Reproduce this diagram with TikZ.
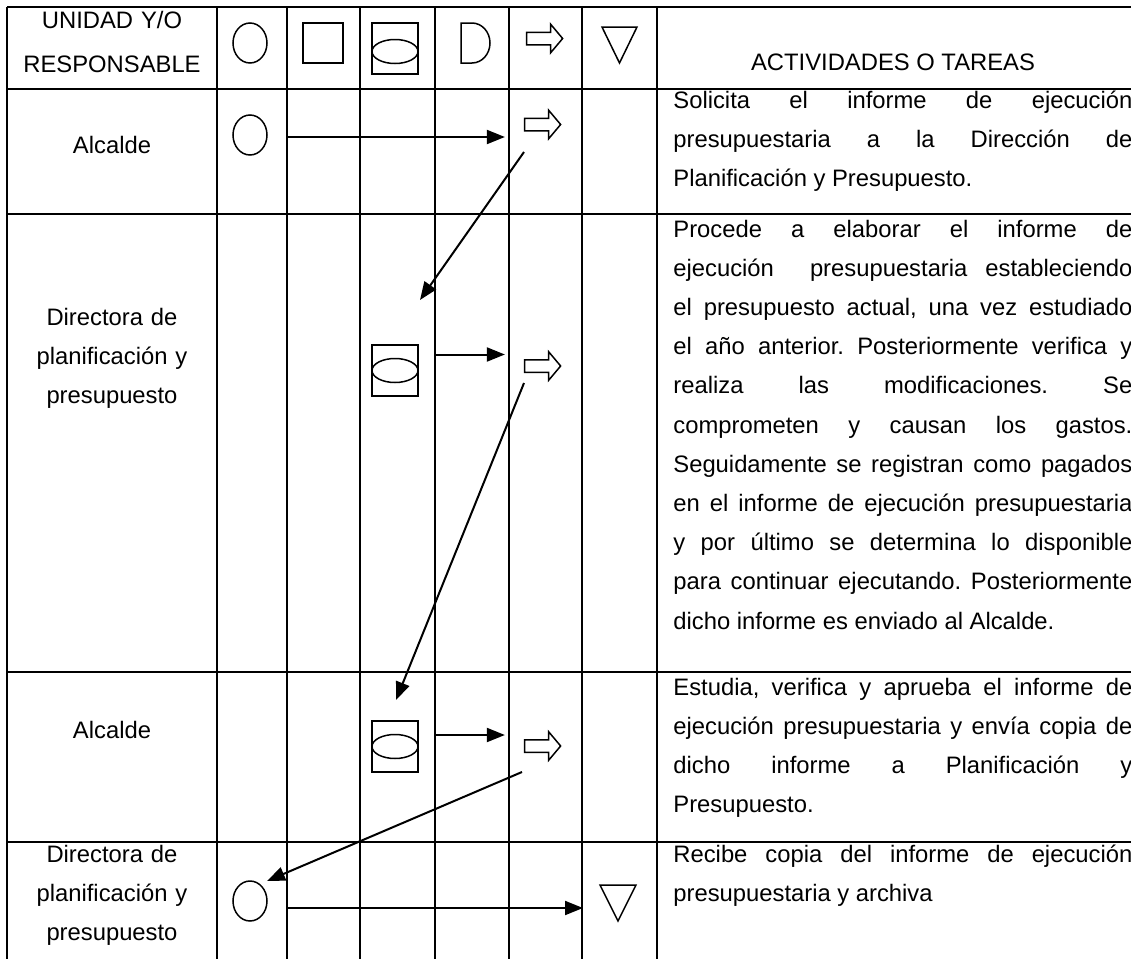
\documentclass[tikz,border=0pt]{standalone}
\usepackage{fontspec}
\setmainfont{Liberation Sans}
\usepackage{tikz}
\usetikzlibrary{arrows.meta, positioning, shapes.geometric, shapes.arrows}

\begin{document}
\frenchspacing
\begin{tikzpicture}[x=0.5pt, y=-0.5pt,
  linea/.style={line width=1pt},
  flujo/.style={line width=1pt, -{Triangle[length=9pt, width=7pt]}},
  simb/.style={draw, line width=0.75pt, inner sep=0pt},
  origen/.style={simb, ellipse, minimum width=17pt, minimum height=20pt},
  operacion/.style={simb, rectangle, minimum width=20pt, minimum height=20pt},
  inspeccion/.style={simb, rectangle, minimum width=23pt, minimum height=25.5pt},
  ovalo/.style={simb, ellipse, minimum width=23pt, minimum height=12pt},
  transporte/.style={simb, single arrow, inner xsep=0pt, inner ysep=2.75pt,
    minimum height=18pt, minimum width=13.5pt,
    single arrow head extend=4pt, single arrow tip angle=100},
  texto/.style={font=\fontsize{11.9pt}{19.6pt}\selectfont, inner sep=0pt},
  unidad/.style={texto, anchor=base, text width=105pt, align=center},
  tarea/.style={texto, anchor=base west, text width=229.5pt, align=justify,
    execute at begin node={\tolerance=10000\hbadness=10000}}
]

  \useasboundingbox (0, 0) rectangle (1131, 959);

  % Cuadrícula
  \foreach \x in {7, 217, 287, 360, 435, 509, 582, 657}
    \draw[linea] (\x, 7) -- (\x, 959);
  \foreach \y in {7, 89, 214, 672, 842}
    \draw[linea] (7, \y) -- (1131, \y);

  % Encabezado
  \node[unidad, font=\fontsize{11.9pt}{22pt}\selectfont] (hunidad) at (112, 28) {UNIDAD Y/O\\RESPONSABLE};
  \node[origen] (horigen) at (250, 43) {};
  \node[operacion] (hoper) at (323, 43) {};
  \node[inspeccion] (hinsp) at (395, 48.5) {};
  \node[ovalo] (hinspo) at (395, 51.5) {};
  \draw[line width=0.75pt] (461, 23) -- (472, 23)
    arc[start angle=90, end angle=-90, x radius=9pt, y radius=10pt] -- (461, 63) -- cycle;
  \node[transporte] (htrans) at (542, 38.5) {};
  \draw[line width=0.75pt] (602, 27) -- (637, 27) -- (619.5, 63) -- cycle;
  \node[texto, anchor=base] (hact) at (893, 70) {ACTIVIDADES O TAREAS};

  % Fila 1
  \node[unidad] (unidad1) at (112, 153) {Alcalde};
  \node[origen] (origen1) at (250, 135) {};
  \node[transporte] (trans1) at (540, 124.5) {};
  \node[tarea] (tarea1) at (673, 108) {Solicita el informe de ejecución\linebreak
    presupuestaria a la Dirección de\linebreak
    Planificación y Presupuesto.};

  % Fila 2
  \node[unidad] (unidad2) at (112, 325) {Directora de\\planificación y\\presupuesto};
  \node[inspeccion] (insp2) at (395, 370.5) {};
  \node[ovalo] (insp2o) at (insp2) {};
  \node[transporte] (trans2) at (540, 366) {};
  \node[tarea] (tarea2) at (673, 237) {Procede a elaborar el informe de\linebreak
    ejecución \ presupuestaria estableciendo\linebreak
    el presupuesto actual, una vez estudiado\linebreak
    el año anterior. Posteriormente verifica y\linebreak
    realiza las modificaciones. Se\linebreak
    comprometen y causan los gastos.\linebreak
    Seguidamente se registran como pagados\linebreak
    en el informe de ejecución presupuestaria\linebreak
    y por último se determina lo disponible\linebreak
    para continuar ejecutando. Posteriormente\linebreak
    dicho informe es enviado al Alcalde.};

  % Fila 3
  \node[unidad] (unidad3) at (112, 738) {Alcalde};
  \node[inspeccion] (insp3) at (395, 746.5) {};
  \node[ovalo] (insp3o) at (insp3) {};
  \node[transporte] (trans3) at (540, 746) {};
  \node[tarea] (tarea3) at (673, 695) {Estudia, verifica y aprueba el informe de\linebreak
    ejecución presupuestaria y envía copia de\linebreak
    dicho informe a Planificación y\linebreak
    Presupuesto.};

  % Fila 4
  \node[unidad] (unidad4) at (112, 862) {Directora de\\planificación y\\presupuesto};
  \node[origen] (origen4) at (250, 901) {};
  \draw[line width=0.75pt] (600, 885) -- (636, 885) -- (618, 921) -- cycle;
  \coordinate (archivo4) at (600, 908);
  \node[tarea] (tarea4) at (673, 862) {Recibe copia del informe de ejecución\linebreak
    presupuestaria y archiva};

  % Flechas
  \coordinate (d1a) at (524, 152);
  \coordinate (d1b) at (420, 300);
  \coordinate (d2a) at (524, 383);
  \coordinate (d2b) at (396, 700);
  \coordinate (d3a) at (522, 772);
  \coordinate (d3b) at (267, 881);

  \draw[flujo, shorten <=10pt, shorten >=9.5pt] ([yshift=-1pt]origen1.east) -- ([yshift=-1pt]origen1.east -| trans1.west);
  \draw[flujo] (d1a) -- (d1b);
  \draw[flujo, shorten <=8.5pt, shorten >=9.5pt] ([yshift=8pt]insp2.east) -- ([yshift=8pt]insp2.east -| trans2.west);
  \draw[flujo] (d2a) -- (d2b);
  \draw[flujo, shorten <=8.5pt, shorten >=9.5pt] ([yshift=5.75pt]insp3.east) -- ([yshift=5.75pt]insp3.east -| trans3.west);
  \draw[flujo] (d3a) -- (d3b);
  \draw[flujo, shorten <=10pt, shorten >=8.5pt] ([yshift=-3.5pt]origen4.east) -- (archivo4);

\end{tikzpicture}
\end{document}
